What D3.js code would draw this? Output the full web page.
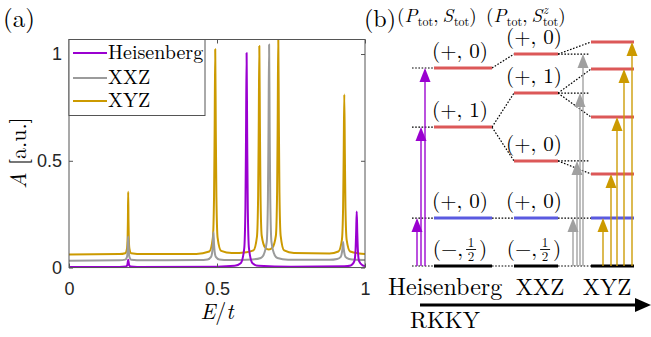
<!DOCTYPE html>
<html>
<head>
<meta charset="utf-8">
<script src="https://cdn.jsdelivr.net/npm/d3@7"></script>
<style>
	body { margin: 0; background: #fff; }
	.tick text { font-family: "Liberation Sans", Arial, sans-serif; font-size: 18px; fill: #262626; }
</style>
</head>
<body>
<div id="chart"></div>
<script>

// ---- panel (a): spectra, [E/t, A] ----
const seriesNames = ['Heisenberg', 'XXZ', 'XYZ'];
const seriesColors = ['#9a00d0', '#9b9b9b', '#cc9a00'];

const heisenberg = [
	[0, 0.002], [0.17, 0.003], [0.192, 0.005], [0.197, 0.012], [0.2, 0.036], [0.203, 0.012], [0.208, 0.005], [0.23, 0.003],
	[0.5, 0.004], [0.56, 0.008], [0.58, 0.02], [0.592, 0.09], [0.596, 0.28], [0.598, 0.61], [0.6, 1.005], [0.602, 0.61],
	[0.604, 0.28], [0.608, 0.09], [0.62, 0.02], [0.64, 0.008], [0.75, 0.004],
	[0.93, 0.006], [0.952, 0.01], [0.964, 0.03], [0.968, 0.08], [0.97, 0.16], [0.972, 0.262], [0.974, 0.16], [0.976, 0.08],
	[0.98, 0.03], [0.992, 0.01], [1.0, 0.007]
];

const xxz = [
	[0, 0.032], [0.17, 0.034], [0.19, 0.037], [0.196, 0.05], [0.198, 0.08], [0.2, 0.145], [0.202, 0.08], [0.204, 0.05],
	[0.21, 0.037], [0.25, 0.034],
	[0.44, 0.035], [0.468, 0.038], [0.48, 0.05], [0.484, 0.075], [0.486, 0.11], [0.488, 0.165], [0.49, 0.11], [0.492, 0.075],
	[0.496, 0.05], [0.508, 0.038], [0.54, 0.035],
	[0.62, 0.038], [0.648, 0.045], [0.656, 0.055], [0.668, 0.12], [0.672, 0.32], [0.674, 0.65], [0.676, 1.045], [0.678, 0.65],
	[0.68, 0.32], [0.684, 0.12], [0.696, 0.055], [0.704, 0.045], [0.74, 0.037],
	[0.88, 0.036], [0.906, 0.04], [0.918, 0.05], [0.922, 0.07], [0.924, 0.09], [0.926, 0.12], [0.928, 0.09], [0.93, 0.07],
	[0.934, 0.05], [0.946, 0.04], [0.97, 0.036], [1.0, 0.035]
];

const xyz = [
	[0, 0.061], [0.17, 0.063], [0.19, 0.067], [0.196, 0.09], [0.198, 0.14], [0.199, 0.22], [0.2, 0.355], [0.201, 0.22],
	[0.202, 0.14], [0.204, 0.09], [0.21, 0.067], [0.25, 0.063],
	[0.43, 0.064], [0.474, 0.075], [0.486, 0.14], [0.49, 0.33], [0.492, 0.64], [0.494, 1.022], [0.496, 0.64], [0.498, 0.33],
	[0.502, 0.14], [0.514, 0.078], [0.55, 0.068],
	[0.6, 0.072], [0.623, 0.08], [0.635, 0.145], [0.639, 0.34], [0.641, 0.66], [0.643, 1.038], [0.645, 0.66], [0.647, 0.34],
	[0.651, 0.15], [0.663, 0.093], [0.675, 0.084], [0.687, 0.093], [0.699, 0.15], [0.703, 0.35], [0.705, 0.68], [0.707, 1.09],
	[0.709, 0.68], [0.711, 0.35], [0.715, 0.15], [0.727, 0.08], [0.76, 0.068],
	[0.88, 0.066], [0.91, 0.075], [0.922, 0.13], [0.926, 0.28], [0.928, 0.53], [0.93, 0.81], [0.932, 0.53], [0.934, 0.28],
	[0.938, 0.13], [0.95, 0.075], [0.98, 0.066], [1.0, 0.064]
];

const xTicks = [0, 0.5, 1];
const yTicks = [0, 0.5, 1];

// ---- panel (b): level scheme (schematic energies, ground = 0) ----
const columnNames = ['Heisenberg', 'XXZ', 'XYZ'];
const heisLevels = [0, 0.214, 0.62, 0.884];
const heisLabels = ['(−,½)', '(+, 0)', '(+, 1)', '(+, 0)'];
const xxzLevels = [0, 0.214, 0.469, 0.772, 0.946];
const xxzLabels = ['(−,½)', '(+, 0)', '(+, 0)', '(+, 1)', '(+, 0)'];
const xyzLevels = [0, 0.214, 0.411, 0.665, 0.879, 1.0];
const levelKinds = ['ground', 'blue', 'red', 'red', 'red', 'red'];
// which level flows into which when going to the next model
const heisToXxz = [[0, 0], [1, 1], [2, 2], [2, 3], [3, 4]];
const xxzToXyz = [[0, 0], [1, 1], [2, 2], [3, 3], [3, 4], [4, 5]];

const SERIF = 'Latin Modern Roman';


class Figure {

	constructor(options) {
		this.element = options.element;
		this.draw();
	}

	draw() {
		this.width = 651;
		this.height = 337;
		this.svg = d3.select(this.element)
			.append('svg')
				.attr('width', this.width)
				.attr('height', this.height);

		this.drawSpectra();
		this.drawLevels();
	}

	text(sel, x, y, size, str) {
		return sel.append('text')
			.attr('x', x).attr('y', y)
			.attr('font-family', SERIF)
			.attr('font-size', size)
			.attr('fill', '#000')
			.text(str);
	}

	measure(str, size, italic) {
		const t = this.text(this.svg, -500, -500, size, str);
		if (italic) t.attr('font-style', 'italic');
		const w = t.node().getComputedTextLength();
		t.remove();
		return w;
	}

	// one <text> built from absolutely placed runs: [str, x, y, size, italic]
	runs(sel, list) {
		const t = sel.append('text')
			.attr('font-family', SERIF)
			.attr('fill', '#000');
		list.forEach(([str, x, y, size, italic]) => {
			t.append('tspan')
				.attr('x', x).attr('y', y)
				.attr('font-size', size)
				.attr('font-style', italic ? 'italic' : 'normal')
				.text(str);
		});
		return t;
	}

	drawSpectra() {
		const svg = this.svg;
		const left = 69, right = 365, top = 39.5, bottom = 268.4;

		const x = d3.scaleLinear().domain([0, 1]).range([left, right]);
		const y = d3.scaleLinear().domain([-0.004, 1.068]).range([bottom, top]);

		svg.append('clipPath').attr('id', 'plotclip')
			.append('rect')
				.attr('x', left).attr('y', top)
				.attr('width', right - left).attr('height', bottom - top + 1);

		const line = d3.line()
			.x(d => x(d[0]))
			.y(d => y(d[1]))
			.curve(d3.curveMonotoneX);

		// XYZ first, Heisenberg on top (as in the picture)
		const data = [heisenberg, xxz, xyz];
		const plot = svg.append('g').attr('clip-path', 'url(#plotclip)');
		[2, 1, 0].forEach(i => {
			plot.append('path')
				.attr('d', line(data[i]))
				.attr('fill', 'none')
				.attr('stroke', seriesColors[i])
				.attr('stroke-width', 2)
				.attr('stroke-linejoin', 'round');
		});

		const axisColor = '#555';

		const fmt = d3.format('~g');
		const gx = svg.append('g')
			.attr('transform', `translate(0, ${y(0)})`)
			.call(d3.axisBottom(x).tickValues(xTicks).tickFormat(fmt).tickSize(-4).tickPadding(15));
		const gy = svg.append('g')
			.attr('transform', `translate(${left}, 0)`)
			.call(d3.axisLeft(y).tickValues(yTicks).tickFormat(fmt).tickSize(-4).tickPadding(7));
		const gt = svg.append('g')
			.attr('transform', `translate(0, ${top})`)
			.call(d3.axisTop(x).tickValues(xTicks).tickFormat('').tickSize(-4));
		const gr = svg.append('g')
			.attr('transform', `translate(${right}, 0)`)
			.call(d3.axisRight(y).tickValues(yTicks).tickFormat('').tickSize(-4));

		[gx, gy, gt, gr].forEach(g => {
			g.select('.domain').remove();
			g.selectAll('.tick line').attr('stroke', axisColor);
		});

		svg.append('rect')
			.attr('x', left).attr('y', top)
			.attr('width', right - left).attr('height', y(0) - top)
			.attr('fill', 'none')
			.attr('stroke', axisColor)
			.attr('stroke-width', 1);

		// axis labels
		this.text(svg, 217, 319, 22, null)
			.attr('text-anchor', 'middle')
			.html('<tspan font-style="italic">E</tspan>/<tspan font-style="italic">t</tspan>');

		this.text(svg, 0, 0, 22, null)
			.attr('transform', 'translate(26, 153) rotate(-90)')
			.attr('text-anchor', 'middle')
			.html('<tspan font-style="italic">A</tspan> [a.u.]');

		this.text(svg, 3, 27, 25, '(a)');

		// legend
		const legend = svg.append('g');
		legend.append('rect')
			.attr('x', left).attr('y', top)
			.attr('width', 136).attr('height', 76)
			.attr('fill', '#fff')
			.attr('stroke', axisColor)
			.attr('stroke-width', 1);
		const rowY = [53, 78, 101];
		seriesNames.forEach((name, i) => {
			legend.append('line')
				.attr('x1', 73).attr('x2', 107)
				.attr('y1', rowY[i]).attr('y2', rowY[i])
				.attr('stroke', seriesColors[i])
				.attr('stroke-width', 2);
			this.text(legend, 108, rowY[i] + 6, 20, name);
		});
	}

	drawLevels() {
		const svg = this.svg;
		const g = svg.append('g');

		const yB = d3.scaleLinear().domain([0, 1]).range([266, 42]);
		const cols = [
			{ x0: 434, x1: 492, levels: heisLevels, labels: heisLabels, labelX: 460 },
			{ x0: 514, x1: 558, levels: xxzLevels, labels: xxzLabels, labelX: 534 },
			{ x0: 591, x1: 634, levels: xyzLevels, labels: null }
		];
		const kindColor = { ground: '#000', blue: '#5a5ae0', red: '#dc5858' };

		const dotted = (x1, y1, x2, y2) => g.append('line')
			.attr('x1', x1).attr('y1', y1).attr('x2', x2).attr('y2', y2)
			.attr('stroke', '#000')
			.attr('stroke-width', 1.2)
			.attr('stroke-dasharray', '1.6,1.6');

		// stubs left of the Heisenberg levels
		heisLevels.forEach(e => dotted(412, yB(e), cols[0].x0, yB(e)));

		// connections between neighbouring models
		[[cols[0], cols[1], heisToXxz], [cols[1], cols[2], xxzToXyz]].forEach(([a, b, links]) => {
			links.forEach(([i, j]) => dotted(a.x1, yB(a.levels[i]), b.x0, yB(b.levels[j])));
		});
		// horizontal stubs right of the XXZ levels
		xxzLevels.slice(2).forEach(e => dotted(cols[1].x1, yB(e), cols[2].x0 - 1, yB(e)));

		// levels
		cols.forEach(c => {
			c.levels.forEach((e, i) => {
				g.append('line')
					.attr('x1', c.x0).attr('x2', c.x1)
					.attr('y1', yB(e)).attr('y2', yB(e))
					.attr('stroke', kindColor[levelKinds[i]])
					.attr('stroke-width', 3);
			});
		});

		// level labels
		cols.filter(c => c.labels).forEach(c => {
			c.levels.forEach((e, i) => {
				const base = yB(e) - 10;
				if (i === 0) {
					this.halfLabel(g, c.labelX, base);
				} else {
					this.text(g, c.labelX, base, 21, c.labels[i]).attr('text-anchor', 'middle');
				}
			});
		});

		// excitation arrows from the ground state
		const arrowSets = [
			{ color: '#9a00d0', xs: [417, 421, 425], levels: heisLevels },
			{ color: '#a0a0a0', xs: [573, 577, 580, 583], levels: xxzLevels },
			{ color: '#cc9a00', xs: [603, 611, 617, 624, 632], levels: xyzLevels }
		];
		arrowSets.forEach(s => {
			s.xs.forEach((ax, k) => {
				const tip = yB(s.levels[k + 1]);
				g.append('line')
					.attr('x1', ax).attr('x2', ax)
					.attr('y1', yB(0)).attr('y2', tip + 10)
					.attr('stroke', s.color)
					.attr('stroke-width', 1.6)
					.attr('opacity', 0.85);
				g.append('path')
					.attr('d', `M${ax},${tip} L${ax - 5.5},${tip + 14} L${ax + 5.5},${tip + 14} Z`)
					.attr('fill', s.color);
			});
		});

		// headers
		this.text(svg, 364, 27, 24, '(b)');
		this.quantumLabel(svg, 397, 22, false);
		this.quantumLabel(svg, 486, 22, true);

		// model names and the RKKY arrow
		this.text(svg, 388, 295, 24, columnNames[0]);
		this.text(svg, 540, 295, 23, columnNames[1]).attr('text-anchor', 'middle');
		this.text(svg, 607, 295, 23, columnNames[2]).attr('text-anchor', 'middle');
		svg.append('line')
			.attr('x1', 420).attr('x2', 638)
			.attr('y1', 305).attr('y2', 305)
			.attr('stroke', '#000')
			.attr('stroke-width', 3);
		svg.append('path')
			.attr('d', 'M651,305 L635,298 L635,312 Z')
			.attr('fill', '#000');
		this.text(svg, 410, 328, 23, 'RKKY');
	}

	// "(P_tot, S_tot)" or "(P_tot, S^z_tot)"
	quantumLabel(sel, x0, base, withZ) {
		const big = 19, small = 12;
		const list = [];
		let x = x0;
		const add = (str, size, dy, italic, gap) => {
			list.push([str, x, base + dy, size, italic]);
			x += this.measure(str, size, italic) + (gap || 0);
		};
		add('(', big, 0, false);
		add('P', big, 0, true, 0.5);
		add('tot', small, 4, false);
		add(',', big, 0, false, 4);
		add('S', big, 0, true, 0.8);
		if (withZ) list.push(['z', x, base - 8, small, true]);
		add('tot', small, 4, false);
		add(')', big, 0, false);
		this.runs(sel, list);
	}

	// "(−, 1/2)" with a stacked fraction
	halfLabel(g, cx, base) {
		const w1 = this.measure('(−,', 21, false);
		const fx = w1 + 8;
		const wd = this.measure('1', 13, false);
		const wp = this.measure(')', 21, false);
		const total = fx + 8 + wp;
		const x0 = cx - total / 2;
		this.runs(g, [
			['(−,', x0, base, 21, false],
			['1', x0 + fx - wd / 2, base - 9, 13, false],
			['2', x0 + fx - wd / 2, base + 5, 13, false],
			[')', x0 + fx + 8, base, 21, false]
		]);
		g.append('line')
			.attr('x1', x0 + fx - 5).attr('x2', x0 + fx + 5)
			.attr('y1', base - 6.5).attr('y2', base - 6.5)
			.attr('stroke', '#000').attr('stroke-width', 0.9);
	}
}

new Figure({ element: '#chart' });

</script>
</body>
</html>
